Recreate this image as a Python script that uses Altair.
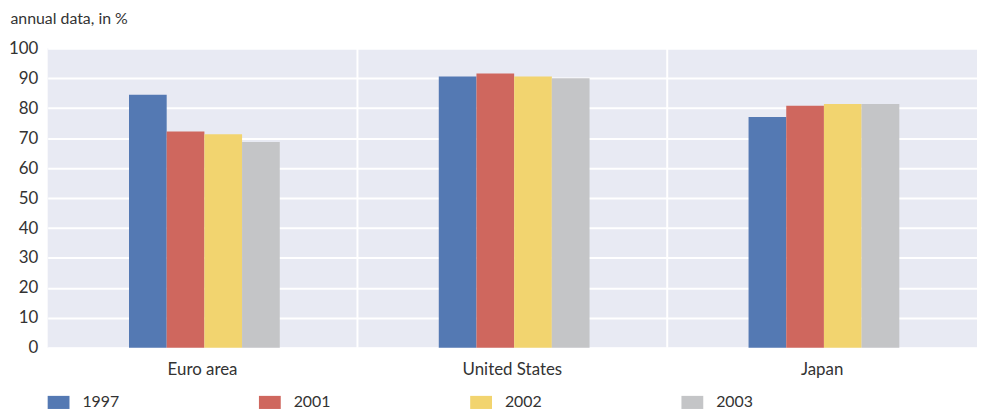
import altair as alt
import pandas as pd

groups = ["Euro area", "United States", "Japan"]
years = ["1997", "2001", "2002", "2003"]
euro = [84.5, 72.2, 71.3, 68.7]
us = [90.6, 91.6, 90.6, 90.0]
japan = [77.1, 80.8, 81.4, 81.4]
colors = ["#5479B3", "#CF675E", "#F2D46F", "#C4C5C7"]

rows = []
for g, vals in zip(groups, [euro, us, japan]):
    for y, v in zip(years, vals):
        rows.append({"group": g, "year": y, "value": v})
df = pd.DataFrame(rows)
sep = pd.DataFrame({"group": groups[1:]})

FONT = "Lato"
TXT = "#333333"

xscale = alt.Scale(domain=groups, paddingInner=0, paddingOuter=0)
xaxis = alt.Axis(labelAngle=0, ticks=False, domain=False, grid=False,
                 labelFontSize=17, labelPadding=14, labelColor=TXT, labelFont=FONT)

rules = alt.Chart(sep).mark_rule(color="white", strokeWidth=2).encode(
    x=alt.X("group:N", scale=xscale, bandPosition=0, axis=xaxis, title=None),
)

bars = alt.Chart(df).mark_bar().encode(
    x=alt.X("group:N", scale=xscale, title=None, axis=xaxis),
    xOffset=alt.XOffset("year:N", scale=alt.Scale(domain=years, paddingInner=0, paddingOuter=0,
                                                  range=[82, 234])),
    y=alt.Y("value:Q", scale=alt.Scale(domain=[0, 100], nice=False), title=None,
            axis=alt.Axis(values=list(range(0, 101, 10)), ticks=False, domain=False,
                          grid=True, gridColor="white", gridWidth=2,
                          labelFontSize=17, labelPadding=10, labelColor=TXT, labelFont=FONT)),
    color=alt.Color("year:N", scale=alt.Scale(domain=years, range=colors), title=None,
                    legend=alt.Legend(orient="none", legendX=0, legendY=346, direction="horizontal",
                                      columns=4, columnPadding=140,
                                      symbolType="M-1,-0.6H1V0.6H-1Z", symbolSize=484,
                                      symbolStrokeWidth=0, labelOffset=13,
                                      labelFontSize=16, labelColor=TXT, labelFont=FONT,
                                      padding=0, offset=0)),
)

chart = alt.layer(rules, bars).properties(
    width=937, height=302,
    padding={"left": 40, "top": 39, "right": 1, "bottom": 64},
    autosize=alt.AutoSizeParams(type="none"),
    title=alt.TitleParams("annual data, in %", anchor="start", dx=2, offset=13,
                          fontSize=16, font=FONT, fontWeight="normal", color=TXT),
).configure_view(fill="#E8EAF3", stroke=None)

chart.save("out.html", embed_options={"renderer": "svg", "actions": False})
